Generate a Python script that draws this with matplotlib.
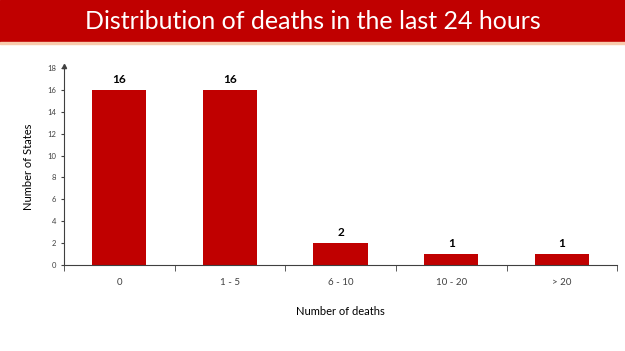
import numpy as np
import matplotlib.pyplot as plt
from matplotlib.patches import Rectangle

# data
categories = ["0", "1 - 5", "6 - 10", "10 - 20", "> 20"]
states = [16, 16, 2, 1, 1]
y_ticks = [0, 2, 4, 6, 8, 10, 12, 14, 16, 18]

red = "#C00000"
plt.rcParams['font.family'] = ['Lato', 'DejaVu Sans']

fig = plt.figure(figsize=(6.25, 3.51), dpi=100)

# red title banner
fig.patches.append(Rectangle((0, 0.88), 1, 0.12, transform=fig.transFigure,
                             color=red, zorder=0))
fig.patches.append(Rectangle((0, 0.875), 1, 0.005, transform=fig.transFigure,
                             color="#F8CBAD", zorder=0))
fig.text(0.5, 0.94, "Distribution of deaths in the last 24 hours",
         color="white", fontsize=18, ha="center", va="center")

ax = fig.add_axes([0.1024, 0.245, 0.885, 0.561])
x = np.arange(len(categories))
bars = ax.bar(x, states, width=0.49, color=red)
for b, v in zip(bars, states):
    ax.text(b.get_x() + b.get_width() / 2, v + 0.5, str(v),
            ha="center", va="bottom", fontsize=8.5, fontweight="bold")

ax.set_xlim(-0.5, len(categories) - 0.5)
ax.set_ylim(0, 18)
ax.set_yticks(y_ticks)
ax.tick_params(axis="y", labelsize=5.5, length=2, colors="#404040")
ax.set_xticks(x)
ax.set_xticklabels(categories)
ax.set_xticks(np.arange(-0.5, len(categories)), minor=True)
ax.tick_params(axis="x", which="major", length=0, labelsize=7, pad=9,
               colors="#404040")
ax.tick_params(axis="x", which="minor", length=4, direction="out",
               color="#404040")

for s in ["top", "right"]:
    ax.spines[s].set_visible(False)
ax.spines["left"].set_color("#404040")
ax.spines["bottom"].set_color("#404040")
# arrow on top of y axis
ax.plot(-0.5, 18.2, marker="^", color="#404040", markersize=3,
        clip_on=False, transform=ax.transData)

ax.set_ylabel("Number of States", fontsize=8, labelpad=10)
ax.set_xlabel("Number of deaths", fontsize=8, labelpad=14)

fig.savefig("out.png", dpi=100)
